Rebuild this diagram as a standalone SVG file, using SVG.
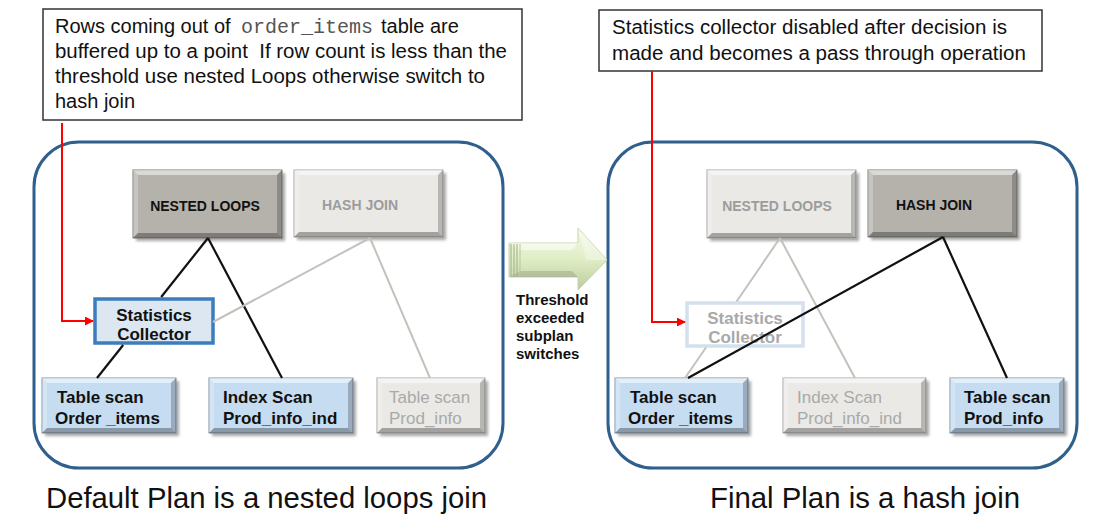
<svg xmlns="http://www.w3.org/2000/svg" width="1114" height="530" viewBox="0 0 1114 530">
<style>
text{font-family:"Liberation Sans",Arial,sans-serif}
.note{fill:#fff;stroke:#333;stroke-width:1.5}
.nt{font-size:20px;fill:#111}
.mono{font-family:"Liberation Mono","Courier New",monospace;fill:#555}
.panel{fill:none;stroke:#2f5f8c;stroke-width:3}
.shadow{fill:#000;opacity:.35;filter:url(#blur)}
.dark{fill:#b5b2ac;stroke:#7c7a76;stroke-width:1}
.light{fill:#eae9e6;stroke:#a5a39f;stroke-width:1}
.blue{fill:#c5dcf1;stroke:#7f8f9f;stroke-width:1}
.bt{fill:#fff;opacity:.5}
.bl{fill:#fff;opacity:.25}
.br{fill:#000;opacity:.22}
.bb{fill:#000;opacity:.3}
.hdr{font-size:14px;font-weight:bold;text-anchor:middle}
.hon{fill:#111}
.hoff{fill:#9c9c9c}
.lbl{font-size:17px;font-weight:bold;fill:#111}
.lbloff{font-size:17px;fill:#a9a9a9}
.sc{font-size:17px;font-weight:bold;text-anchor:middle}
.blk{stroke:#111;stroke-width:2.2;fill:none}
.gry{stroke:#c4c2bc;stroke-width:2;fill:none}
.red{stroke:#ff0000;stroke-width:2;fill:none;marker-end:url(#ah)}
.cap{font-size:29px;fill:#111}
.thr{font-size:15px;font-weight:bold;fill:#111}
</style>
<defs>
<filter id="blur" x="-10%" y="-10%" width="120%" height="130%"><feGaussianBlur stdDeviation="1.5"/></filter>
<marker id="ah" viewBox="0 0 10 10" refX="9" refY="5" markerWidth="9" markerHeight="9" orient="auto" markerUnits="userSpaceOnUse"><path d="M0,0 L10,5 L0,10 Z" fill="#ff0000"/></marker>
<linearGradient id="ag" x1="0" y1="0" x2="0" y2="1">
<stop offset="0" stop-color="#f4f9e8"/><stop offset="0.5" stop-color="#e0edc6"/><stop offset="1" stop-color="#bccc9e"/>
</linearGradient>
</defs>

<!-- panels -->
<rect class="panel" x="34" y="142" width="469" height="326" rx="45"/>
<rect class="panel" x="608" y="142" width="469" height="326" rx="45"/>

<!-- notes -->
<g id="note-left">
<rect class="note" x="43" y="9" width="479" height="111"/>
<text class="nt" y="33"><tspan x="55">Rows coming out of</tspan><tspan class="mono" x="241">order_items</tspan><tspan x="381">table are</tspan></text>
<text class="nt" x="55" y="58" textLength="452" lengthAdjust="spacingAndGlyphs" style="white-space:pre">buffered up to a point  If row count is less than the</text>
<text class="nt" x="55" y="83" textLength="430" lengthAdjust="spacingAndGlyphs">threshold use nested Loops otherwise switch to</text>
<text class="nt" x="55" y="108">hash join</text>
</g>
<g id="note-right">
<rect class="note" x="599" y="10" width="443" height="61"/>
<text class="nt" x="612" y="34" textLength="395" lengthAdjust="spacingAndGlyphs">Statistics collector disabled after decision is</text>
<text class="nt" x="612" y="60" textLength="414" lengthAdjust="spacingAndGlyphs">made and becomes a pass through operation</text>
</g>

<!-- left plan nodes -->
<g id="l-nested-loops">
<rect class="shadow" x="136" y="173" width="149" height="68"/>
<rect class="dark" x="133" y="170" width="149" height="68"/>
<path class="bt" d="M133,170 H282 L277,175 H138 Z"/><path class="bl" d="M133,170 L138,175 V233 L133,238 Z"/>
<path class="br" d="M282,170 V238 L277,233 V175 Z"/><path class="bb" d="M133,238 L138,233 H277 L282,238 Z"/>
<text class="hdr hon" x="205" y="211">NESTED LOOPS</text>
</g>
<g id="l-hash-join">
<rect class="shadow" x="297" y="173" width="149" height="67"/>
<rect class="light" x="294" y="170" width="149" height="67"/>
<path class="bt" d="M294,170 H443 L438,175 H299 Z"/><path class="bl" d="M294,170 L299,175 V232 L294,237 Z"/>
<path class="br" d="M443,170 V237 L438,232 V175 Z"/><path class="bb" d="M294,237 L299,232 H438 L443,237 Z"/>
<text class="hdr hoff" x="360" y="210">HASH JOIN</text>
</g>
<g id="l-stats">
<rect x="95" y="299" width="118" height="44" fill="#dde7f1" stroke="#3b7dbd" stroke-width="3.5"/>
<text class="sc" x="154" y="321" fill="#111">Statistics</text>
<text class="sc" x="154" y="340" fill="#111">Collector</text>
</g>
<g id="l-table-order">
<rect class="shadow" x="45" y="381" width="134" height="55"/>
<rect class="blue" x="42" y="378" width="134" height="55"/>
<path class="bt" d="M42,378 H176 L171,383 H47 Z"/><path class="bl" d="M42,378 L47,383 V428 L42,433 Z"/>
<path class="br" d="M176,378 V433 L171,428 V383 Z"/><path class="bb" d="M42,433 L47,428 H171 L176,433 Z"/>
<text class="lbl" x="57" y="403">Table scan</text>
<text class="lbl" x="55" y="424">Order _items</text>
</g>
<g id="l-index-scan">
<rect class="shadow" x="212" y="381" width="144" height="55"/>
<rect class="blue" x="209" y="378" width="144" height="55"/>
<path class="bt" d="M209,378 H353 L348,383 H214 Z"/><path class="bl" d="M209,378 L214,383 V428 L209,433 Z"/>
<path class="br" d="M353,378 V433 L348,428 V383 Z"/><path class="bb" d="M209,433 L214,428 H348 L353,433 Z"/>
<text class="lbl" x="223" y="403">Index Scan</text>
<text class="lbl" x="223" y="424">Prod_info_ind</text>
</g>
<g id="l-table-prod">
<rect class="shadow" x="380" y="381" width="108" height="55"/>
<rect class="light" x="377" y="378" width="108" height="55"/>
<path class="bt" d="M377,378 H485 L480,383 H382 Z"/><path class="bl" d="M377,378 L382,383 V428 L377,433 Z"/>
<path class="br" d="M485,378 V433 L480,428 V383 Z"/><path class="bb" d="M377,433 L382,428 H480 L485,433 Z"/>
<text class="lbloff" x="389" y="403">Table scan</text>
<text class="lbloff" x="389" y="424">Prod_info</text>
</g>

<!-- right plan nodes -->
<g id="r-nested-loops">
<rect class="shadow" x="710" y="173" width="149" height="68"/>
<rect class="light" x="707" y="170" width="149" height="68"/>
<path class="bt" d="M707,170 H856 L851,175 H712 Z"/><path class="bl" d="M707,170 L712,175 V233 L707,238 Z"/>
<path class="br" d="M856,170 V238 L851,233 V175 Z"/><path class="bb" d="M707,238 L712,233 H851 L856,238 Z"/>
<text class="hdr hoff" x="777" y="211">NESTED LOOPS</text>
</g>
<g id="r-hash-join">
<rect class="shadow" x="871" y="173" width="149" height="67"/>
<rect class="dark" x="868" y="170" width="149" height="67"/>
<path class="bt" d="M868,170 H1017 L1012,175 H873 Z"/><path class="bl" d="M868,170 L873,175 V232 L868,237 Z"/>
<path class="br" d="M1017,170 V237 L1012,232 V175 Z"/><path class="bb" d="M868,237 L873,232 H1012 L1017,237 Z"/>
<text class="hdr hon" x="934" y="210">HASH JOIN</text>
</g>
<g id="r-stats">
<rect x="687" y="303" width="116" height="43" fill="#fff" stroke="#d3e0ed" stroke-width="3.5"/>
<text class="sc" x="745" y="324" fill="#a9a9a9">Statistics</text>
<text class="sc" x="745" y="343" fill="#a9a9a9">Collector</text>
</g>
<g id="r-table-order">
<rect class="shadow" x="618" y="381" width="133" height="55"/>
<rect class="blue" x="615" y="378" width="133" height="55"/>
<path class="bt" d="M615,378 H748 L743,383 H620 Z"/><path class="bl" d="M615,378 L620,383 V428 L615,433 Z"/>
<path class="br" d="M748,378 V433 L743,428 V383 Z"/><path class="bb" d="M615,433 L620,428 H743 L748,433 Z"/>
<text class="lbl" x="630" y="403">Table scan</text>
<text class="lbl" x="628" y="424">Order _items</text>
</g>
<g id="r-index-scan">
<rect class="shadow" x="786" y="381" width="143" height="55"/>
<rect class="light" x="783" y="378" width="143" height="55"/>
<path class="bt" d="M783,378 H926 L921,383 H788 Z"/><path class="bl" d="M783,378 L788,383 V428 L783,433 Z"/>
<path class="br" d="M926,378 V433 L921,428 V383 Z"/><path class="bb" d="M783,433 L788,428 H921 L926,433 Z"/>
<text class="lbloff" x="797" y="403">Index Scan</text>
<text class="lbloff" x="797" y="424">Prod_info_ind</text>
</g>
<g id="r-table-prod">
<rect class="shadow" x="953" y="381" width="114" height="55"/>
<rect class="blue" x="950" y="378" width="114" height="55"/>
<path class="bt" d="M950,378 H1064 L1059,383 H955 Z"/><path class="bl" d="M950,378 L955,383 V428 L950,433 Z"/>
<path class="br" d="M1064,378 V433 L1059,428 V383 Z"/><path class="bb" d="M950,433 L955,428 H1059 L1064,433 Z"/>
<text class="lbl" x="964" y="403">Table scan</text>
<text class="lbl" x="964" y="424">Prod_info</text>
</g>

<!-- connectors -->
<g id="connectors">
<path class="blk" d="M208,238 L161.2,297"/>
<path class="blk" d="M123.2,345 L97,378"/>
<path class="blk" d="M208,238 L282,378"/>
<path class="gry" d="M370,238 L213,322"/>
<path class="gry" d="M370,238 L430,378"/>
<path class="gry" d="M780,238 L736.6,301.5"/>
<path class="gry" d="M706,347.5 L685,378"/>
<path class="gry" d="M780,238 L855,378"/>
<path class="blk" d="M943,237 L688,378"/>
<path class="blk" d="M943,237 L1007,378"/>
<path class="red" d="M62,123 V321 H93"/>
<path class="red" d="M652,71 V322 H685"/>
</g>

<!-- transition arrow -->
<g id="switch-arrow">
<path d="M509,243 H578 V228 L607,260 L578,290 V277 H509 Z" fill="url(#ag)" stroke="#c5d3ad" stroke-width="1"/>
<path d="M578,228 L607,260 L586,260 Z" fill="#fff" opacity=".35"/>
<path d="M509,243 H578 L572,250 H520 Z" fill="#fff" opacity=".5"/>
<path d="M509,277 H578 L572,271 H520 Z" fill="#000" opacity=".12"/>
<line x1="511" y1="244" x2="511" y2="276" stroke="#a8b78c" stroke-width="1.2"/>
<line x1="514" y1="244" x2="514" y2="276" stroke="#a8b78c" stroke-width="1.2"/>
<line x1="517" y1="244" x2="517" y2="276" stroke="#a8b78c" stroke-width="1.2"/>
<line x1="520" y1="244" x2="520" y2="276" stroke="#b8c69c" stroke-width="1"/>
<text class="thr" x="516" y="305">Threshold</text>
<text class="thr" x="516" y="323">exceeded</text>
<text class="thr" x="516" y="341">subplan</text>
<text class="thr" x="516" y="359">switches</text>
</g>

<!-- captions -->
<text class="cap" x="46" y="508" textLength="441" lengthAdjust="spacingAndGlyphs">Default Plan is a nested loops join</text>
<text class="cap" x="710" y="508" textLength="310" lengthAdjust="spacingAndGlyphs">Final Plan is a hash join</text>
</svg>
